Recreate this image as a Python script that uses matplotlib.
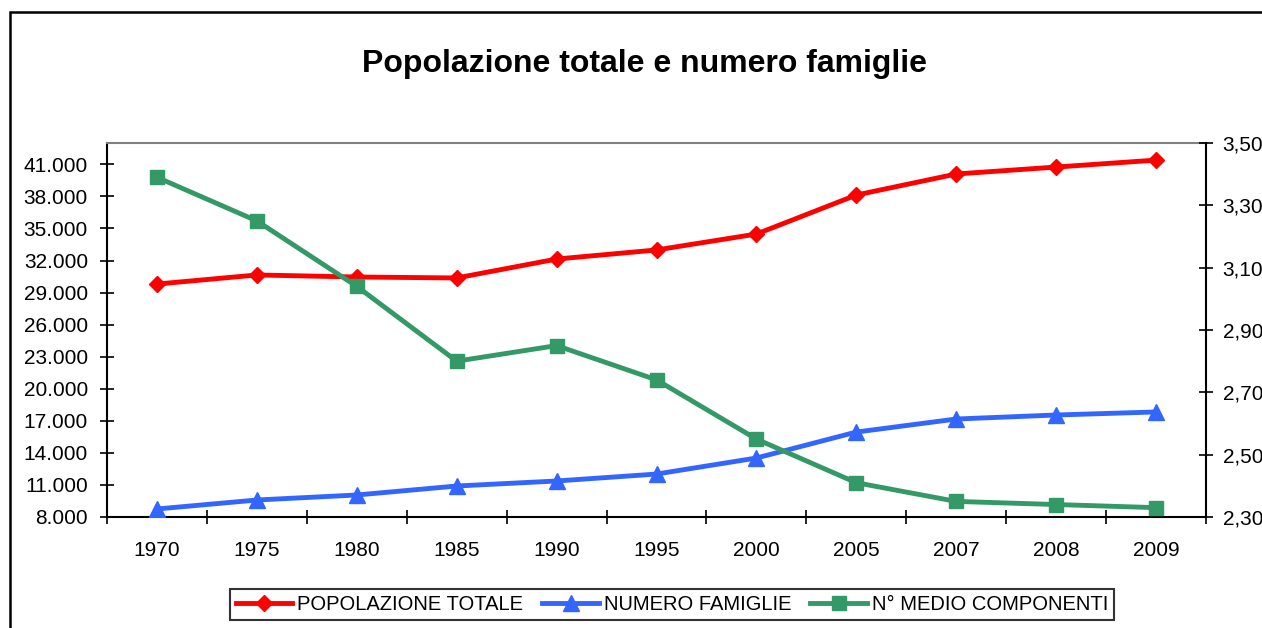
import matplotlib
matplotlib.use("Agg")
import numpy as np
import matplotlib.pyplot as plt
from matplotlib.patches import Rectangle
from matplotlib.ticker import FuncFormatter

anni = ["1970", "1975", "1980", "1985", "1990", "1995", "2000", "2005", "2007", "2008", "2009"]
popolazione = [29800, 30650, 30460, 30370, 32140, 32990, 34480, 38130, 40100, 40750, 41400]
famiglie = [8750, 9590, 10060, 10900, 11370, 12020, 13520, 15950, 17170, 17545, 17830]
componenti = [3.39, 3.25, 3.04, 2.80, 2.85, 2.74, 2.55, 2.41, 2.35, 2.34, 2.33]

plt.rcParams['font.family'] = ['Liberation Sans', 'DejaVu Sans']

fig = plt.figure(figsize=(12.62, 6.28), dpi=100)
ax = fig.add_axes([107 / 1262, 1 - 517 / 628, 1099 / 1262, 374 / 628])
ax2 = ax.twinx()

x = np.arange(len(anni))
l1, = ax.plot(x, popolazione, color='#FF0000', lw=3.5, marker='D', ms=8,
              label='POPOLAZIONE TOTALE', zorder=3)
l2, = ax.plot(x, famiglie, color='#3366FF', lw=3.5, marker='^', ms=11,
              label='NUMERO FAMIGLIE', zorder=3)
l3, = ax2.plot(x, componenti, color='#339966', lw=3.5, marker='s', ms=10,
               label='N° MEDIO COMPONENTI', zorder=3)

# asse sinistro
ax.set_xlim(-0.5, len(anni) - 0.5)
ax.set_ylim(8000, 43000)
ax.set_yticks(np.arange(8000, 41001, 3000))
ax.yaxis.set_major_formatter(FuncFormatter(lambda v, p: f"{int(v):,}".replace(",", ".")))
ax.tick_params(axis='y', direction='inout', length=9.5, width=1.2, labelsize=15, pad=9)

# categorie
ax.set_xticks(x)
ax.set_xticklabels(anni)
ax.set_xticks(np.arange(-0.5, len(anni), 1), minor=True)
ax.tick_params(axis='x', which='major', length=0, labelsize=15, pad=17)
ax.tick_params(axis='x', which='minor', direction='inout', length=10, width=1.2)

# asse destro
ax2.set_ylim(2.30, 3.50)
ax2.set_yticks(np.arange(2.30, 3.51, 0.20))
ax2.yaxis.set_major_formatter(FuncFormatter(lambda v, p: f"{v:.2f}".replace(".", ",")))
ax2.tick_params(axis='y', direction='inout', length=10, width=1.2, labelsize=15, pad=7)

for s in ['left', 'bottom', 'right']:
    ax.spines[s].set_color('black')
    ax.spines[s].set_linewidth(1.5)
ax.spines['right'].set_visible(False)
ax.spines['top'].set_color('#808080')
ax.spines['top'].set_linewidth(1.5)
for s in ['left', 'bottom', 'top']:
    ax2.spines[s].set_visible(False)
ax2.spines['right'].set_color('black')
ax2.spines['right'].set_linewidth(1.5)

fig.text(644 / 1262, 1 - 64 / 628, "Popolazione totale e numero famiglie",
         ha='center', va='center', fontsize=23, fontweight='bold')

leg = fig.legend([l1, l2, l3], [l1.get_label(), l2.get_label(), l3.get_label()],
                 loc='center', bbox_to_anchor=(672 / 1262, 1 - 604.5 / 628), ncol=3,
                 frameon=True, fancybox=False, edgecolor='black', fontsize=14.5,
                 handlelength=2.8, handletextpad=0.25, columnspacing=0.95,
                 borderpad=0.3, borderaxespad=0)
leg.get_frame().set_linewidth(1.5)

# bordo area grafico
fig.add_artist(Rectangle((10 / 1262, -0.1), 1.0, 1.1 - 12 / 628, transform=fig.transFigure,
                         fill=False, edgecolor='black', lw=1.8))

fig.savefig("out.png", dpi=100)
